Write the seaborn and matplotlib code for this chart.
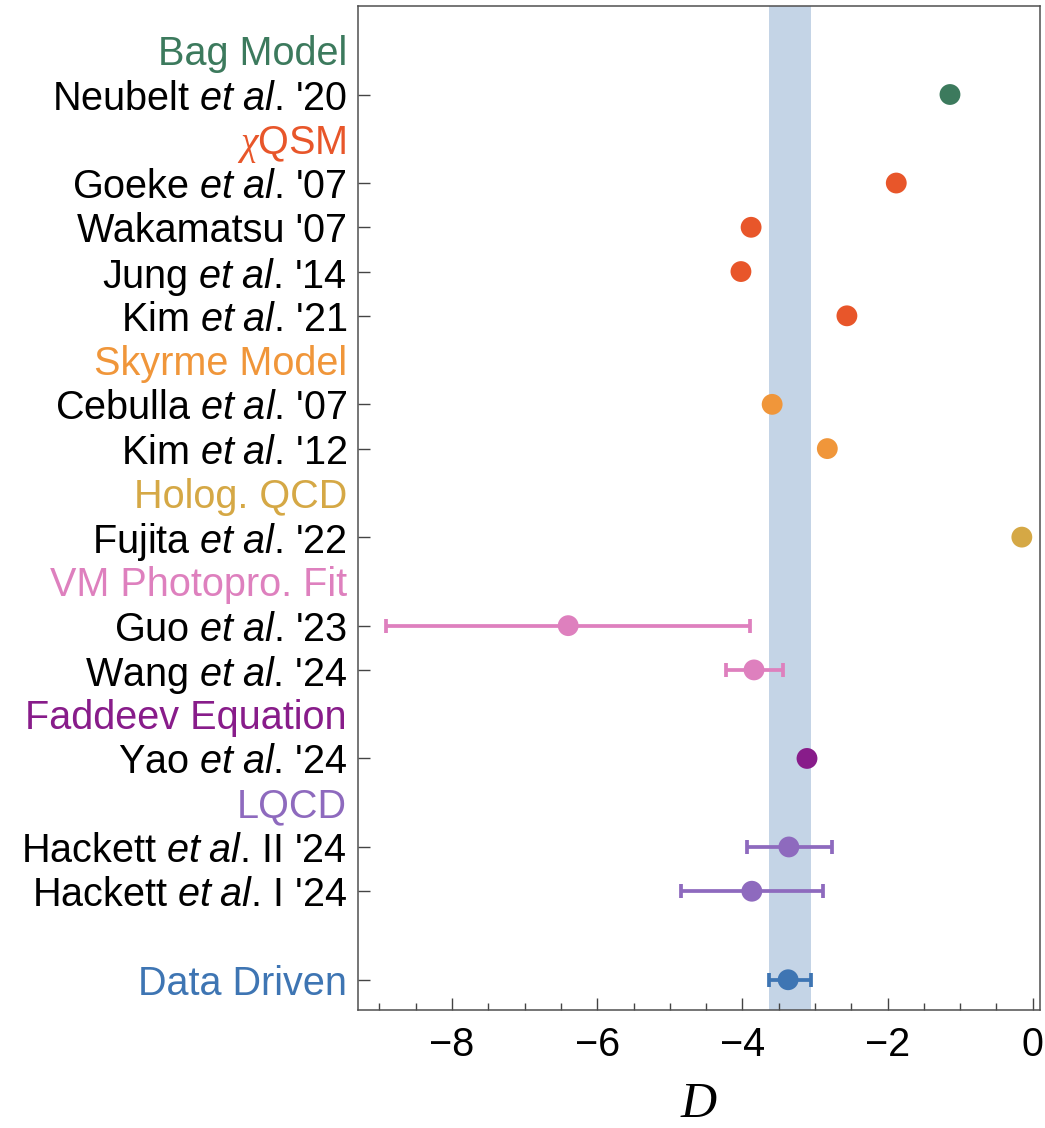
import numpy as np
import pandas as pd
import matplotlib
matplotlib.use("Agg")
import matplotlib.pyplot as plt
import matplotlib.transforms as mtransforms
from matplotlib.ticker import MultipleLocator
import seaborn as sns

# ---- data -------------------------------------------------------------
studies = [
    "Neubelt $\\mathsf{et\\ al}$. '20",
    "Goeke $\\mathsf{et\\ al}$. '07",
    "Wakamatsu '07",
    "Jung $\\mathsf{et\\ al}$. '14",
    "Kim $\\mathsf{et\\ al}$. '21",
    "Cebulla $\\mathsf{et\\ al}$. '07",
    "Kim $\\mathsf{et\\ al}$. '12",
    "Fujita $\\mathsf{et\\ al}$. '22",
    "Guo $\\mathsf{et\\ al}$. '23",
    "Wang $\\mathsf{et\\ al}$. '24",
    "Yao $\\mathsf{et\\ al}$. '24",
    "Hackett $\\mathsf{et\\ al}$. II '24",
    "Hackett $\\mathsf{et\\ al}$. I '24",
    "Data Driven",
]
study_rows = [20, 18, 17, 16, 15, 13, 12, 10, 8, 7, 5, 3, 2, 0]
study_group = ["bag", "qsm", "qsm", "qsm", "qsm", "sky", "sky", "holo",
               "vm", "vm", "fad", "lqcd", "lqcd", "data"]
D_central = [-1.14, -1.88, -3.88, -4.02, -2.56, -3.59, -2.83, -0.15,
             -6.40, -3.84, -3.11, -3.36, -3.87, -3.37]
D_lower = [np.nan, np.nan, np.nan, np.nan, np.nan, np.nan, np.nan, np.nan,
           -8.91, -4.23, np.nan, -3.93, -4.84, -3.64]
D_upper = [np.nan, np.nan, np.nan, np.nan, np.nan, np.nan, np.nan, np.nan,
           -3.90, -3.44, np.nan, -2.76, -2.89, -3.05]

group_keys = ["bag", "qsm", "sky", "holo", "vm", "fad", "lqcd", "data"]
group_titles = ["Bag Model", "$\\chi$QSM", "Skyrme Model", "Holog. QCD",
                "VM Photopro. Fit", "Faddeev Equation", "LQCD", None]
group_title_rows = [21, 19, 14, 11, 9, 6, 4, None]
group_colors = ["#3c7a5d", "#e8562a", "#f0963a", "#d5a845", "#de80be",
                "#881c8a", "#8e6abe", "#3e75b3"]

x_ticks = [-8, -6, -4, -2, 0]

# ---- style ------------------------------------------------------------
sns.set_theme(style="ticks")
plt.rcParams["font.family"] = ["Liberation Sans", "DejaVu Sans"]
plt.rcParams["text.color"] = "black"
plt.rcParams["axes.labelcolor"] = "black"
plt.rcParams["xtick.labelcolor"] = "black"
plt.rcParams["ytick.labelcolor"] = "black"
plt.rcParams["mathtext.fontset"] = "custom"
plt.rcParams["mathtext.rm"] = "Liberation Serif"
plt.rcParams["mathtext.it"] = "Liberation Serif:italic"
plt.rcParams["mathtext.sf"] = "Liberation Sans:italic"

FS = 28.5
palette = dict(zip(group_keys, group_colors))

df = pd.DataFrame({
    "study": studies, "row": study_rows, "group": study_group,
    "D": D_central, "lo": D_lower, "hi": D_upper,
})

fig = plt.figure(figsize=(10.45, 11.28), dpi=100)
ax = fig.add_axes([0.3423, 0.1049, 0.6529, 0.8898])

# band from the data-driven extraction
dd = df[df["group"] == "data"].iloc[0]
ax.axvspan(dd["lo"], dd["hi"], color="#c4d4e6", lw=0, zorder=0)

# error bars
for _, r in df.dropna(subset=["lo"]).iterrows():
    ax.errorbar(r["D"], r["row"],
                xerr=[[r["D"] - r["lo"]], [r["hi"] - r["D"]]],
                fmt="none", ecolor=palette[r["group"]], elinewidth=2.7,
                capsize=5.0, capthick=2.7, zorder=2)

sns.scatterplot(data=df, x="D", y="row", hue="group", palette=palette,
                s=225, edgecolor="none", legend=False, ax=ax, zorder=3)

ax.set_xlim(-9.30, 0.10)
ax.set_ylim(-0.676, 22.0)

ax.set_yticks(study_rows)
ax.set_yticklabels(studies)
for lab, g in zip(ax.get_yticklabels(), study_group):
    lab.set_color("#3e75b3" if g == "data" else "black")

ax.set_xticks(x_ticks)
ax.set_xticklabels([f"\u2212{abs(t)}" if t < 0 else str(t) for t in x_ticks])
ax.xaxis.set_minor_locator(MultipleLocator(0.5))

ax.tick_params(axis="y", direction="in", length=8.6, width=1.0,
               color="#444444", labelsize=FS, pad=7.7, left=True, right=False)
ax.tick_params(axis="x", which="major", direction="in", length=8.6,
               width=1.0, color="#444444", labelsize=FS, pad=12)
ax.tick_params(axis="x", which="minor", direction="in", length=5.2,
               width=1.0, color="#444444")
ax.tick_params(top=False, right=False, which="both")

for sp in ax.spines.values():
    sp.set_visible(True)
    sp.set_color("#505050")
    sp.set_linewidth(1.1)

ax.set_xlabel("$D$", fontsize=36, labelpad=12)
ax.set_ylabel("")
ax.grid(False)

# group headings at the left of the axis
trans = mtransforms.blended_transform_factory(ax.transAxes, ax.transData)
for title, row, col in zip(group_titles, group_title_rows, group_colors):
    if title is None:
        continue
    ax.annotate(title, xy=(0, row), xycoords=trans,
                xytext=(-7.7, 0), textcoords="offset points",
                ha="right", va="center_baseline", fontsize=FS, color=col)

fig.savefig("out.png", dpi=100)
